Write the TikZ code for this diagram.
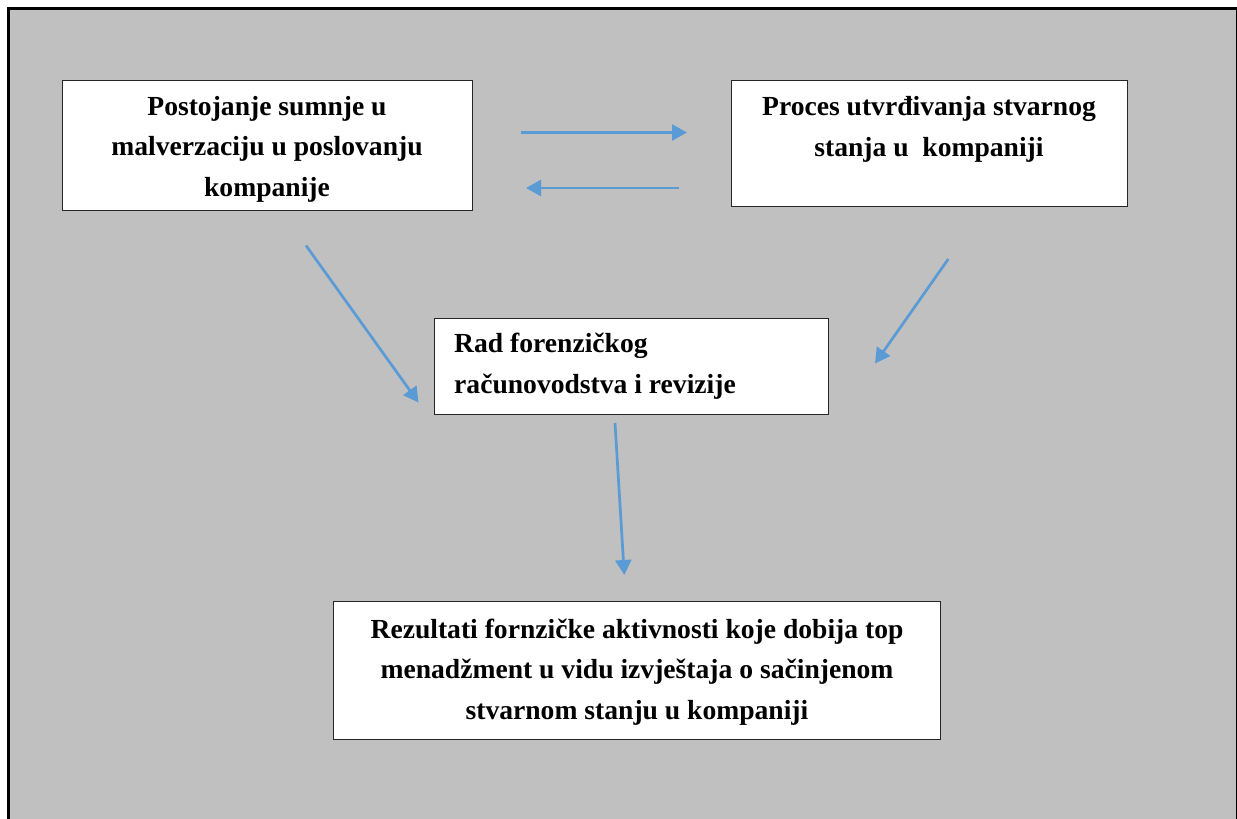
\documentclass[tikz,border=0pt]{standalone}
\usepackage{fontspec}
\setmainfont{Liberation Serif}
\usetikzlibrary{arrows.meta}
\definecolor{panelgray}{HTML}{C0C0C0}
\definecolor{flowblue}{HTML}{5B9BD5}
\begin{document}
\begin{tikzpicture}[x=1pt,y=-1pt,
  box/.style={draw=black!85,line width=1.2pt,fill=white,anchor=north west,inner sep=0pt},
  txt/.style={font=\bfseries\fontsize{27.6}{40.5}\selectfont,inner sep=0pt,anchor=base},
  conn/.style={draw=flowblue,line width=2.7pt,-{Triangle[length=15pt,width=16pt]}}]
\useasboundingbox (0,0) rectangle (1237,819);
% background panel with frame
\begin{scope}
\clip (0,0) rectangle (1237,819);
\draw[fill=panelgray,line width=3pt] (8,8) rectangle (1237.5,840);
\end{scope}
% boxes
\node[box,minimum width=410pt,minimum height=130pt] (b1) at (62,80) {};
\node[box,minimum width=396pt,minimum height=126pt] (b2) at (731,80) {};
\node[box,minimum width=394pt,minimum height=96pt] (b3) at (434,318) {};
\node[box,minimum width=607pt,minimum height=138pt] (b4) at (333,601) {};
% texts (placed by the baseline of their last line)
\node[txt,align=center] (t1) at (267,196) {Postojanje sumnje u\\malverzaciju u poslovanju\\kompanije};
\node[txt,align=center] (t2) at (929,156) {Proces utvrđivanja stvarnog\\stanja u\ \ kompaniji};
\node[txt,align=left,anchor=base west] (t3) at (454,393) {Rad forenzičkog\\računovodstva i revizije};
\node[txt,align=center] (t4) at (637,719) {Rezultati fornzičke aktivnosti koje dobija top\\menadžment u vidu izvještaja o sačinjenom\\stvarnom stanju u kompaniji};
% connector end points
\coordinate (r1) at (521,132.5);
\coordinate (r2) at (687,132.5);
\coordinate (l1) at (679,188);
\coordinate (l2) at (526,188);
\coordinate (d1) at (306,245.5);
\coordinate (d2) at (418.5,402.5);
\coordinate (e1) at (948.3,259);
\coordinate (e2) at (875,363.5);
\coordinate (v1) at (615,423);
\coordinate (v2) at (624.3,575);
% connectors
\draw[conn] (r1) -- (r2);
\draw[conn] (l1) -- (l2);
\draw[conn] (d1) -- (d2);
\draw[conn] (e1) -- (e2);
\draw[conn] (v1) -- (v2);
\end{tikzpicture}
\end{document}
